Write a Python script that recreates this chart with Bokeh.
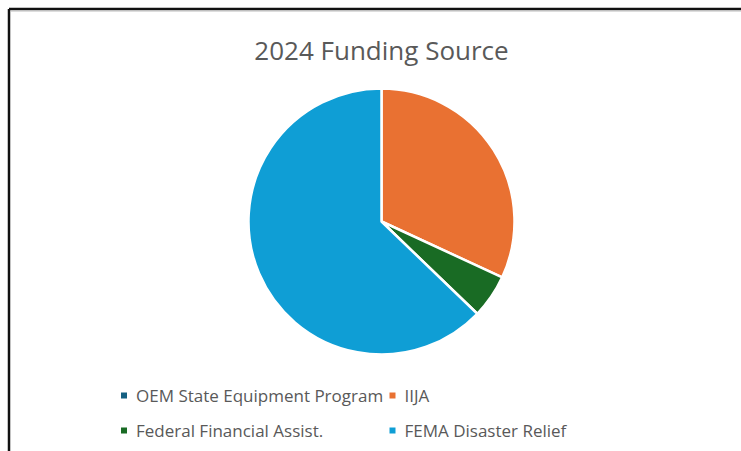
import math
from bokeh.plotting import figure
from bokeh.models import Range1d, ColumnDataSource
from bokeh.core.properties import value
from bokeh.embed import file_html
from bokeh.resources import INLINE

title = "2024 Funding Source"
categories = ["OEM State Equipment Program", "IIJA", "Federal Financial Assist.", "FEMA Disaster Relief"]
shares = [0.0, 31.9, 5.3, 62.8]
colors = ["#156082", "#E97132", "#196B24", "#0F9ED5"]

W, H = 741, 451
TEXT = "#595959"
FONT = "Open Sans"

def Y(y):
    return H - y

p = figure(width=W, height=H, output_backend="svg", toolbar_location=None,
           x_range=Range1d(0, W), y_range=Range1d(0, H), min_border=0)
p.axis.visible = False
p.grid.visible = False
p.outline_line_color = None
p.background_fill_color = "white"
p.border_fill_color = "white"

# frame lines (top and left edges of the chart area)
p.line([8.5, 8.5], [Y(451), Y(8.5)], line_color="#111111", line_width=2.5)
p.line([8.5, W], [Y(8.5), Y(8.5)], line_color="#111111", line_width=2.5)
p.line([10, W], [Y(10.5), Y(10.5)], line_color="#bbbbbb", line_width=1)

# pie
total = sum(shares)
starts, ends = [], []
acc = 0.0
for s in shares:
    a0 = math.pi / 2 - 2 * math.pi * (acc + s) / total
    a1 = math.pi / 2 - 2 * math.pi * acc / total
    starts.append(a0)
    ends.append(a1)
    acc += s
src = ColumnDataSource(dict(cat=categories, share=shares, color=colors, start=starts, end=ends))
p.wedge(x=381, y=Y(221), radius=133, start_angle="start", end_angle="end",
        fill_color="color", line_color="white", line_width=2.5, source=src)

# title
p.text(x=[381], y=[Y(49)], text=[title], text_font=value(FONT), text_font_size="26px",
       text_color=TEXT, text_align="center", text_baseline="middle")

# legend (2 columns x 2 rows)
sq_x = [123.5, 392, 123.5, 392]
sq_y = [Y(395), Y(395), Y(430), Y(430)]
p.rect(x=sq_x, y=sq_y, width=6, height=6, fill_color=colors, line_color=None)
p.text(x=[x + 12 for x in sq_x], y=sq_y, text=categories, text_font=value(FONT),
       text_font_size="17px", text_color=TEXT, text_align="left", text_baseline="middle")

open("out.html", "w").write(file_html(p, INLINE))
